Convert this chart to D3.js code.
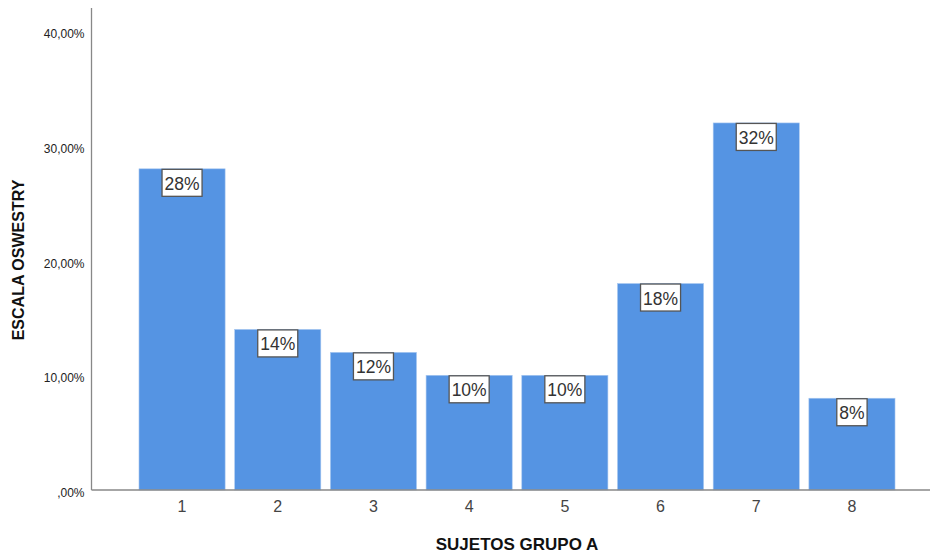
<!DOCTYPE html>
<html><head><meta charset="utf-8">
<script src="https://cdn.jsdelivr.net/npm/d3@7"></script>
<style>body{margin:0;background:#fff}svg{display:block}text{font-family:"Liberation Sans",Arial,sans-serif}</style>
</head><body>
<svg id="c" width="931" height="553"></svg>
<script>
const categories = ["1","2","3","4","5","6","7","8"];
const values = [28,14,12,10,10,18,32,8];
const yTicks = [0,10,20,30,40];
const yTickLabels = [",00%","10,00%","20,00%","30,00%","40,00%"];
const xTitle = "SUJETOS GRUPO A";
const yTitle = "ESCALA OSWESTRY";

const svg = d3.select("#c");
const x0 = 91.5, x1 = 930, yB = 490, yT = 8;
const y = d3.scaleLinear().domain([0, 42.02]).range([yB, yT]);
const x = d3.scaleBand().domain(categories).range([134.2, 899.8]).paddingInner(0.1).paddingOuter(0.05);

svg.selectAll("rect.bar").data(values).join("rect").attr("class","bar")
  .attr("x",(d,i)=>x(categories[i])).attr("width",x.bandwidth())
  .attr("y",d=>y(d)).attr("height",d=>yB-y(d))
  .attr("fill","#5594e3").attr("stroke","#a9c8f0").attr("stroke-width",0.6);

// y axis
const ya = svg.append("g").attr("transform",`translate(${x0},0)`)
  .call(d3.axisLeft(y).tickValues(yTicks).tickSize(0).tickPadding(7).tickFormat((d,i)=>yTickLabels[i]));
ya.select(".domain").remove();
ya.selectAll("text").attr("font-size",12).attr("dy","0.55em").attr("fill","#222").attr("font-family","'Liberation Sans',Arial,sans-serif");
svg.append("line").attr("x1",x0).attr("x2",x0).attr("y1",yT).attr("y2",yB).attr("stroke","#888").attr("stroke-width",1.3);

// x axis
const xa = svg.append("g").attr("transform",`translate(0,${yB})`)
  .call(d3.axisBottom(x).tickSize(0).tickPadding(11));
xa.select(".domain").remove();
xa.selectAll("text").attr("font-size",16).attr("fill","#444").attr("font-family","'Liberation Sans',Arial,sans-serif");
svg.append("line").attr("x1",x0).attr("x2",x1).attr("y1",yB).attr("y2",yB).attr("stroke","#888").attr("stroke-width",1.5);

// labels
const lg = svg.selectAll("g.lab").data(values).join("g").attr("class","lab")
  .attr("transform",(d,i)=>`translate(${x(categories[i])+x.bandwidth()/2},${y(d)})`);
lg.append("text").attr("text-anchor","middle").attr("y",21).attr("font-size",17.5).attr("fill","#333")
  .text(d=>d+"%");
lg.each(function(){
  const g=d3.select(this), t=g.select("text").node().getBBox();
  g.insert("rect","text").attr("x",t.x-2.5).attr("y",0.5).attr("width",t.width+5).attr("height",27)
   .attr("fill","#fff").attr("stroke","#555").attr("stroke-width",1.3);
});

svg.append("text").attr("x",517).attr("y",550).attr("text-anchor","middle").attr("font-size",17)
  .attr("font-weight","bold").attr("fill","#111").text(xTitle);
svg.append("text").attr("transform","translate(24,260) rotate(-90)").attr("text-anchor","middle")
  .attr("font-size",16).attr("font-weight","bold").attr("fill","#111").text(yTitle);
</script>
</body></html>
